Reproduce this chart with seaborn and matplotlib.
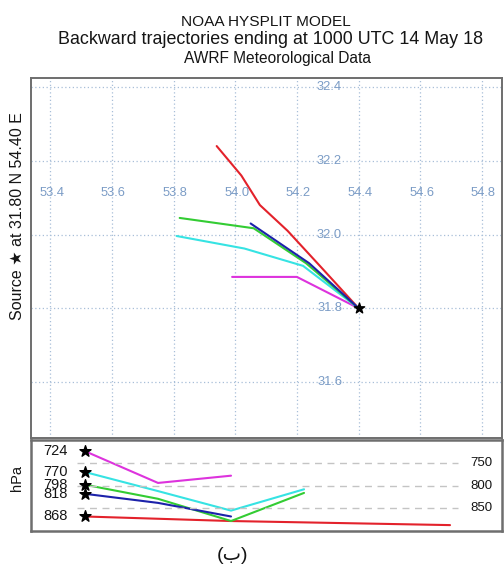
import numpy as np
import pandas as pd
import matplotlib
matplotlib.use("Agg")
import matplotlib.pyplot as plt
import seaborn as sns

# ---------------- data ----------------
traj_names = ["red", "magenta", "cyan", "green", "blue"]
traj_colors = ["#e3222b", "#dd33dd", "#36e3e3", "#33cc33", "#1c22aa"]

red_lon = [54.40, 54.28, 54.17, 54.08, 54.02, 53.94]
red_lat = [31.80, 31.91, 32.01, 32.08, 32.16, 32.24]
red_p = [868, 873, 878, 881, 884, 887]

magenta_lon = [54.40, 54.20, 53.99]
magenta_lat = [31.80, 31.885, 31.885]
magenta_p = [724, 794, 778]

cyan_lon = [54.40, 54.22, 54.03, 53.81]
cyan_lat = [31.80, 31.915, 31.962, 31.996]
cyan_p = [770, 812, 855, 808]

green_lon = [54.40, 54.23, 54.06, 53.82]
green_lat = [31.80, 31.922, 32.017, 32.045]
green_p = [798, 829, 878, 816]

blue_lon = [54.40, 54.24, 54.05]
blue_lat = [31.80, 31.922, 32.03]
blue_p = [818, 838, 868]

source_lon = 54.40
source_lat = 31.80

lon_ticks = [53.4, 53.6, 53.8, 54.0, 54.2, 54.4, 54.6, 54.8]
lat_ticks = [31.6, 31.8, 32.0, 32.2, 32.4]
p_ref = [750, 800, 850]
# starting-height labels, in the order of traj_names
start_p_labels = ["868", "724", "770", "798", "818"]

title1 = "NOAA HYSPLIT MODEL"
title2 = "Backward trajectories ending at 1000 UTC 14 May 18"
title3 = "AWRF Meteorological Data"
source_text = "Source \u2605 at 31.80 N 54.40 E"
caption = "(\u0628)"

# ---------------- table ----------------
lons = [red_lon, magenta_lon, cyan_lon, green_lon, blue_lon]
lats = [red_lat, magenta_lat, cyan_lat, green_lat, blue_lat]
ps = [red_p, magenta_p, cyan_p, green_p, blue_p]
rows = []
for name, lo_, la_, p_ in zip(traj_names, lons, lats, ps):
    for i, (lo, la, p) in enumerate(zip(lo_, la_, p_)):
        rows.append(dict(traj=name, step=i, lon=lo, lat=la, p=p))
df = pd.DataFrame(rows)
palette = dict(zip(traj_names, traj_colors))

sns.set_theme(style="white")
plt.rcParams["font.family"] = ["Liberation Sans", "DejaVu Sans"]

W, H = 504, 570
fig = plt.figure(figsize=(W / 100, H / 100), dpi=100)

def fx(px):
    return px / W

def fy(py):
    return 1 - py / H

spine_col = "#6e6e6e"
lab_col = "#7b9cc6"
grid_col = "#a8bfd8"
txt_col = "#151515"

# ---------------- map panel ----------------
ax = fig.add_axes([fx(31), fy(438), fx(502) - fx(31), fy(77.5) - fy(438)])
sns.lineplot(data=df, x="lon", y="lat", hue="traj", hue_order=traj_names,
             palette=palette, sort=False, estimator=None, units="traj",
             legend=False, lw=1.5, ax=ax)
ax.scatter([source_lon], [source_lat], marker="*", s=60, color="black", zorder=5)
ax.set_xlim(53.338, 54.865)
ax.set_ylim(31.448, 32.426)
ax.set_xticks(lon_ticks)
ax.set_yticks(lat_ticks)
ax.tick_params(labelbottom=False, labelleft=False, length=0)
ax.grid(True, color=grid_col, ls=(0, (1, 2)), lw=0.9)
ax.set_xlabel("")
ax.set_ylabel("")
for lo in lon_ticks:
    ax.text(lo + 0.005, 32.113, f"{lo:.1f}", color=lab_col, fontsize=9.3,
            ha="center", va="center")
for la in lat_ticks:
    ax.text(54.306, la, f"{la:.1f}", color=lab_col, fontsize=9.3,
            ha="center", va="center")
for s in ax.spines.values():
    s.set_color(spine_col)
    s.set_linewidth(1.4)

# ---------------- pressure panel ----------------
ax2 = fig.add_axes([fx(31), fy(531), fx(502) - fx(31), fy(440) - fy(531)])
sns.lineplot(data=df, x="step", y="p", hue="traj", hue_order=traj_names,
             palette=palette, sort=False, estimator=None, units="traj",
             legend=False, lw=1.5, ax=ax2)
starts = df[df.step == 0]
ax2.scatter(starts.step, starts.p, marker="*", s=70, color="black", zorder=5)
ax2.set_xlim(-0.74, 5.712)
ax2.set_ylim(900, 699.3)
ax2.set_xticks([])
ax2.set_yticks([])
ax2.set_xlabel("")
ax2.set_ylabel("")
for p in p_ref:
    ax2.axhline(p, xmin=0.098, xmax=0.907, color="#c4c4c4", ls=(0, (5, 4)), lw=1)
    ax2.text(0.932, p, str(p), transform=ax2.get_yaxis_transform(),
             fontsize=9.5, color=txt_col, ha="left", va="center")
for lab, p in zip(start_p_labels, starts.p):
    ax2.text(-0.24, p, lab, fontsize=10.5, color=txt_col, ha="right", va="center")
for s in ax2.spines.values():
    s.set_color(spine_col)
    s.set_linewidth(1.8)

# ---------------- texts ----------------
fig.text(fx(266), fy(22), title1, fontsize=11.1, ha="center", va="center", color=txt_col)
fig.text(fx(270), fy(40), title2, fontsize=12.9, ha="center", va="center", color=txt_col)
fig.text(fx(277), fy(58), title3, fontsize=11.2, ha="center", va="center", color=txt_col)
fig.text(fx(17), fy(216), source_text, fontsize=11.5, rotation=90,
         ha="center", va="center", color=txt_col)
fig.text(fx(17), fy(478), "hPa", fontsize=10.5, rotation=90,
         ha="center", va="center", color=txt_col)
fig.text(fx(233), fy(556), caption, fontsize=14, ha="center", va="center",
         color=txt_col)

fig.savefig("out.png", dpi=100, facecolor="white")
